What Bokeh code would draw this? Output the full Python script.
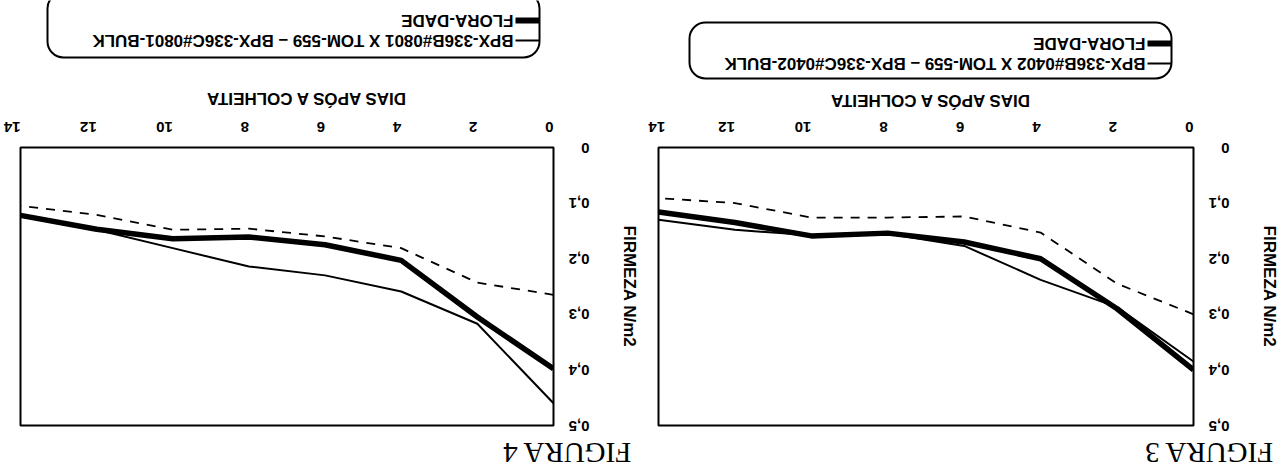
import math
from bokeh.plotting import figure
from bokeh.models import (Range1d, FixedTicker, CustomJSTickFormatter, Label,
                          BoxAnnotation, Arrow)
from bokeh.layouts import row, column
from bokeh.embed import file_html
from bokeh.resources import INLINE

# ---------------- data ----------------
days = [0, 2, 4, 6, 8, 10, 12, 14]
x_ticks = [0, 2, 4, 6, 8, 10, 12, 14]
y_ticks = [0, 0.1, 0.2, 0.3, 0.4, 0.5]

# FIGURA 3
fig3_bpx = [0.385, 0.287, 0.238, 0.177, 0.155, 0.158, 0.148, 0.13]
fig3_flora = [0.40, 0.29, 0.20, 0.17, 0.154, 0.159, 0.135, 0.116]
fig3_other = [0.30, 0.245, 0.153, 0.124, 0.126, 0.126, 0.10, 0.091]

# FIGURA 4
fig4_bpx = [0.46, 0.317, 0.259, 0.23, 0.214, 0.181, 0.148, 0.124]
fig4_flora = [0.398, 0.305, 0.203, 0.175, 0.161, 0.164, 0.147, 0.122]
fig4_other = [0.265, 0.243, 0.181, 0.16, 0.146, 0.148, 0.121, 0.105]

legend_bpx_3 = "BPX-336B#0402 X TOM-559  \u2013  BPX-336C#0402-BULK"
legend_bpx_4 = "BPX-336B#0801 X TOM-559  \u2013  BPX-336C#0801-BULK"
legend_flora = "FLORA-DADE"
x_title = "DIAS AP\u00d3S A COLHEITA"
y_title = "FIRMEZA N/m2"
fig_titles = ["FIGURA 4", "FIGURA 3"]

SANS = "Liberation Sans"
SERIF = "Liberation Serif"
W = 1282
TOP_H = 113          # legend / title strip
MAIN_H = 320         # charts
BOT_H = 37           # figure captions


def strip(height, y0):
    """Blank full-width strip whose data units are page pixels."""
    s = figure(width=W, height=height, x_range=Range1d(0, W),
               y_range=Range1d(y0 + height, y0),
               x_axis_type=None, y_axis_type=None, min_border=0,
               output_backend="svg", toolbar_location=None)
    s.grid.visible = False
    s.outline_line_color = None
    s.background_fill_color = "white"
    s.border_fill_color = "white"
    return s


def lab(p, x, y, text, size, font=SANS, bold=True, align="center"):
    p.add_layout(Label(x=x, y=y, text=text, angle=math.pi, text_align=align,
                       text_baseline="middle", text_font_size=f"{size}px",
                       text_font=font, text_color="black",
                       text_font_style="bold" if bold else "normal"))


def make_chart(width, bl, br, bpx, flora, other):
    p = figure(width=width, height=MAIN_H, x_range=Range1d(14, 0),
               y_range=Range1d(0.5, 0),
               x_axis_location="above", y_axis_location="right",
               output_backend="svg", toolbar_location=None,
               min_border_left=bl, min_border_right=br,
               min_border_top=34, min_border_bottom=8)
    p.grid.visible = False
    p.outline_line_color = "black"
    p.outline_line_width = 2
    p.outline_line_alpha = 1
    p.background_fill_color = "white"
    p.border_fill_color = "white"

    xa = p.xaxis[0]
    xa.ticker = FixedTicker(ticks=x_ticks)
    xa.major_label_orientation = math.pi
    xa.major_label_text_align = "center"
    xa.major_label_text_font = SANS
    xa.major_label_text_font_style = "bold"
    xa.major_label_text_font_size = "15px"
    xa.major_label_text_color = "black"
    xa.major_label_standoff = 15
    xa.axis_line_color = None
    xa.major_tick_line_color = None
    xa.minor_tick_line_color = None

    ya = p.yaxis[0]
    ya.ticker = FixedTicker(ticks=y_ticks)
    ya.formatter = CustomJSTickFormatter(
        code="return tick == 0 ? '0' : tick.toFixed(1).replace('.', ',');")
    ya.major_label_orientation = math.pi
    ya.major_label_text_font = SANS
    ya.major_label_text_font_style = "bold"
    ya.major_label_text_font_size = "15px"
    ya.major_label_text_color = "black"
    ya.major_label_standoff = 30
    ya.axis_line_color = None
    ya.major_tick_line_color = None
    ya.minor_tick_line_color = None
    ya.axis_label = y_title
    ya.axis_label_text_font = SANS
    ya.axis_label_text_font_style = "bold"
    ya.axis_label_text_font_size = "17px"
    ya.axis_label_text_color = "black"
    ya.axis_label_standoff = 7

    p.line(days, other, line_color="black", line_width=1.8, line_dash="9 8")
    p.line(days, bpx, line_color="black", line_width=2)
    p.line(days, flora, line_color="black", line_width=5.5, line_join="round")
    return p


def legend(s, left, right, top, bottom, r1, r2, bpx_text):
    s.add_layout(BoxAnnotation(left=left, right=right, top=top, bottom=bottom,
                               fill_alpha=0, line_color="black", line_alpha=1,
                               line_width=2, border_radius=16))
    for (ry, txt, lw) in [(r1, legend_flora, 6), (r2, bpx_text, 2)]:
        s.add_layout(Arrow(end=None, x_start=right - 24, x_end=right,
                           y_start=ry, y_end=ry,
                           line_color="black", line_width=lw))
        lab(s, right - 26, ry, txt, 17, align="left")


top = strip(TOP_H, 0)
legend(top, 47, 539, -8, 57, 20, 40, legend_bpx_4)
legend(top, 689, 1171, 22, 78, 43, 63, legend_bpx_3)
lab(top, 305, 98, x_title, 17)
lab(top, 929, 100, x_title, 17)

p1 = make_chart(648, 20, 95, fig4_bpx, fig4_flora, fig4_other)
p2 = make_chart(634, 10, 89, fig3_bpx, fig3_flora, fig3_other)

bottom = strip(BOT_H, TOP_H + MAIN_H)
lab(bottom, 566, 452, fig_titles[0], 29, font=SERIF, bold=False)
lab(bottom, 1208, 452, fig_titles[1], 29, font=SERIF, bold=False)

layout = column(top, row(p1, p2), bottom)
open("out.html", "w").write(file_html(layout, INLINE))
